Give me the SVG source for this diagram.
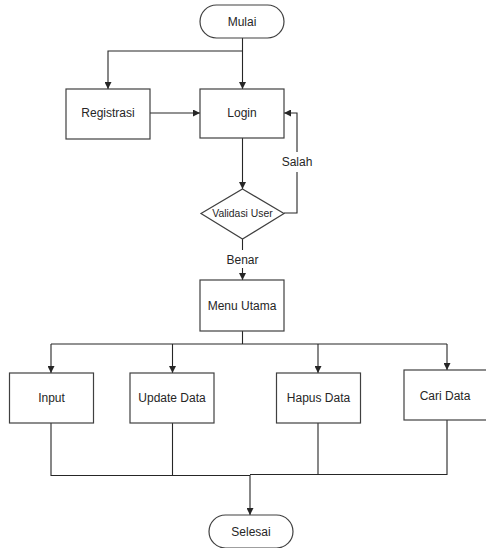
<svg xmlns="http://www.w3.org/2000/svg" width="486" height="548" viewBox="0 0 486 548">
  <style>
    .shape { fill: #ffffff; stroke: #404040; stroke-width: 1.2; }
    .line { fill: none; stroke: #262626; stroke-width: 1.1; }
    .label { font-family: "Liberation Sans", Arial, sans-serif; font-size: 12px; fill: #262626; text-anchor: middle; dominant-baseline: central; }
    .small { font-size: 10.4px; }
  </style>
  <defs>
    <marker id="arrow" viewBox="0 0 8 8" refX="8" refY="4" markerWidth="7" markerHeight="7" markerUnits="userSpaceOnUse" orient="auto">
      <path d="M0,0 L8,4 L0,8 Z" fill="#262626"/>
    </marker>
  </defs>
  <rect width="486" height="548" fill="#ffffff"/>

  <g id="connectors">
    <!-- start to login / registrasi -->
    <path class="line" d="M242.5,38 V89" marker-end="url(#arrow)"/>
    <path class="line" d="M242.5,51 H108 V89" marker-end="url(#arrow)"/>
    <!-- registrasi to login -->
    <path class="line" d="M150,113 H200" marker-end="url(#arrow)"/>
    <!-- login to validasi -->
    <path class="line" d="M242.5,138 V189" marker-end="url(#arrow)"/>
    <!-- salah loop, broken around its label -->
    <path class="line" d="M284,213 H297 V172"/>
    <path class="line" d="M297,152 V113 H284" marker-end="url(#arrow)"/>
    <!-- benar -->
    <path class="line" d="M242.5,239 V250"/>
    <path class="line" d="M242.5,268 V280" marker-end="url(#arrow)"/>
    <!-- menu to branches -->
    <path class="line" d="M242.5,331 V344"/>
    <path class="line" d="M51,344 H447"/>
    <path class="line" d="M51,344 V373" marker-end="url(#arrow)"/>
    <path class="line" d="M172.5,344 V373" marker-end="url(#arrow)"/>
    <path class="line" d="M318,344 V373" marker-end="url(#arrow)"/>
    <path class="line" d="M447,344 V370" marker-end="url(#arrow)"/>
    <!-- branches to end -->
    <path class="line" d="M51,423 V475.5 H250"/>
    <path class="line" d="M172.5,423 V475.5"/>
    <path class="line" d="M318,423 V474.5"/>
    <path class="line" d="M447,420 V474.5 H250"/>
    <path class="line" d="M250,475 V515" marker-end="url(#arrow)"/>
  </g>

  <g id="mulai">
    <rect class="shape" x="200" y="5" width="84" height="33" rx="16.5"/>
    <text class="label" x="242" y="21.5">Mulai</text>
  </g>
  <g id="registrasi">
    <rect class="shape" x="66" y="89" width="84" height="50"/>
    <text class="label" x="108" y="113">Registrasi</text>
  </g>
  <g id="login">
    <rect class="shape" x="200" y="89" width="84" height="49"/>
    <text class="label" x="242" y="113">Login</text>
  </g>
  <g id="validasi">
    <polygon class="shape" points="242.5,189 284,213.5 242.5,239 201,213.5"/>
    <text class="label small" x="242.5" y="213.5">Validasi User</text>
  </g>
  <text class="label" x="242.5" y="259.5">Benar</text>
  <text class="label" x="297" y="162">Salah</text>
  <g id="menu-utama">
    <rect class="shape" x="200" y="280" width="84" height="51"/>
    <text class="label" x="242" y="305.5">Menu Utama</text>
  </g>
  <g id="input">
    <rect class="shape" x="9.5" y="373" width="84" height="50"/>
    <text class="label" x="51.5" y="398">Input</text>
  </g>
  <g id="update-data">
    <rect class="shape" x="130" y="373" width="84" height="50"/>
    <text class="label" x="172" y="398">Update Data</text>
  </g>
  <g id="hapus-data">
    <rect class="shape" x="276.5" y="373" width="84" height="50"/>
    <text class="label" x="318.5" y="398">Hapus Data</text>
  </g>
  <g id="cari-data">
    <rect class="shape" x="404" y="370" width="85" height="50"/>
    <text class="label" x="445" y="395.5">Cari Data</text>
  </g>
  <g id="selesai">
    <rect class="shape" x="209" y="515" width="84" height="33" rx="16.5"/>
    <text class="label" x="251" y="531.5">Selesai</text>
  </g>
</svg>
